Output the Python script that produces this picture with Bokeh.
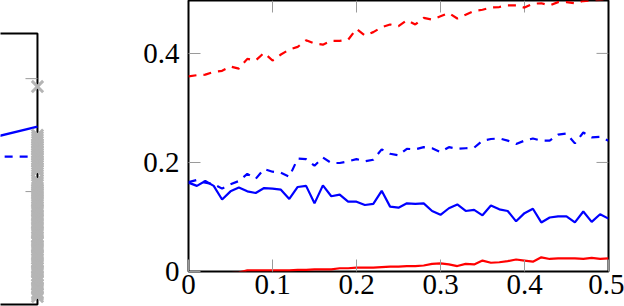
import numpy as np
from bokeh.plotting import figure
from bokeh.layouts import row
from bokeh.models import Range1d, FixedTicker, BoxAnnotation
from bokeh.embed import file_html
from bokeh.resources import INLINE

# ---------------- right panel data ----------------
x = [0.00, 0.01, 0.02, 0.03, 0.04, 0.05, 0.06, 0.07, 0.08, 0.09,
     0.10, 0.11, 0.12, 0.13, 0.14, 0.15, 0.16, 0.17, 0.18, 0.19,
     0.20, 0.21, 0.22, 0.23, 0.24, 0.25, 0.26, 0.27, 0.28, 0.29,
     0.30, 0.31, 0.32, 0.33, 0.34, 0.35, 0.36, 0.37, 0.38, 0.39,
     0.40, 0.41, 0.42, 0.43, 0.44, 0.45, 0.46, 0.47, 0.48, 0.49, 0.50]

blue_solid = [0.163, 0.157, 0.166, 0.157, 0.132, 0.147, 0.154, 0.147, 0.144, 0.153,
              0.152, 0.150, 0.133, 0.155, 0.157, 0.125, 0.158, 0.138, 0.141, 0.128,
              0.128, 0.122, 0.124, 0.148, 0.119, 0.117, 0.125, 0.124, 0.125, 0.111,
              0.104, 0.116, 0.123, 0.111, 0.113, 0.103, 0.121, 0.114, 0.111, 0.092,
              0.107, 0.115, 0.090, 0.099, 0.101, 0.101, 0.090, 0.110, 0.091, 0.105, 0.097]

blue_dashed = [0.164, 0.168, 0.163, 0.160, 0.152, 0.160, 0.166, 0.179, 0.170, 0.188,
               0.183, 0.181, 0.174, 0.207, 0.206, 0.194, 0.209, 0.199, 0.199, 0.202,
               0.206, 0.202, 0.205, 0.224, 0.216, 0.213, 0.225, 0.224, 0.228, 0.226,
               0.219, 0.228, 0.225, 0.226, 0.227, 0.240, 0.243, 0.244, 0.240, 0.234,
               0.240, 0.244, 0.240, 0.240, 0.251, 0.253, 0.235, 0.255, 0.246, 0.247, 0.240]

red_solid = [-0.003, -0.003, -0.003, -0.003, -0.003, -0.003, -0.002, 0.002, 0.002, 0.002,
             0.002, 0.002, 0.002, 0.003, 0.003, 0.004, 0.004, 0.004, 0.006, 0.006,
             0.007, 0.007, 0.007, 0.008, 0.009, 0.009, 0.010, 0.010, 0.011, 0.014,
             0.015, 0.013, 0.010, 0.014, 0.013, 0.020, 0.016, 0.017, 0.019, 0.022,
             0.020, 0.018, 0.026, 0.023, 0.024, 0.024, 0.024, 0.023, 0.025, 0.023, 0.024]

red_dashed = [0.358, 0.360, 0.361, 0.366, 0.368, 0.376, 0.372, 0.390, 0.387, 0.401,
              0.387, 0.398, 0.407, 0.412, 0.424, 0.418, 0.416, 0.423, 0.423, 0.425,
              0.445, 0.433, 0.439, 0.448, 0.453, 0.450, 0.461, 0.453, 0.465, 0.462,
              0.468, 0.474, 0.464, 0.471, 0.478, 0.480, 0.484, 0.485, 0.488, 0.488,
              0.484, 0.491, 0.492, 0.488, 0.494, 0.494, 0.492, 0.496, 0.497, 0.498, 0.500]

xticks = [0.0, 0.1, 0.2, 0.3, 0.4, 0.5]
xtick_labels = ["0", "0.1", "0.2", "0.3", "0.4", "0.5"]
yticks = [0.0, 0.2, 0.4]
ytick_labels = ["0", "0.2", "0.4"]

# ---------------- left panel (only its right edge is visible) ----------------
left_x = [0.45, 0.50]
left_blue_solid = [0.297, 0.315]
left_blue_dashed = [0.262, 0.262]
left_marker_x = 0.50
left_marker_y = [0.386,
                 0.300, 0.296, 0.292, 0.288, 0.283, 0.279, 0.275, 0.270, 0.266, 0.262, 0.257,
                 0.253, 0.249, 0.245, 0.241, 0.237,
                 0.220, 0.216, 0.212, 0.207, 0.202, 0.198, 0.193, 0.188, 0.184, 0.179, 0.173,
                 0.168, 0.165, 0.159, 0.154, 0.149, 0.145, 0.140, 0.135, 0.129, 0.126, 0.120,
                 0.115, 0.110, 0.104, 0.101, 0.096, 0.090, 0.085, 0.081, 0.076, 0.071, 0.065,
                 0.060, 0.057, 0.051, 0.046, 0.041, 0.035, 0.030, 0.027, 0.021, 0.018, 0.014]
left_yticks = [0.2, 0.4]
left_ymax = 0.48

BLUE = "#0000ff"
RED = "#ff0000"
TICK = "#9a9a9a"
GRAY = "#b5b5b5"
FONT = "Liberation Serif"

# ---------------- left figure ----------------
pl = figure(width=45, height=306, output_backend="svg", toolbar_location=None,
            x_range=Range1d(0.4558, 0.5096), y_range=Range1d(-0.0035, 0.5384),
            x_axis_location=None, y_axis_location=None,
            min_border_left=0, min_border_right=0, min_border_top=0, min_border_bottom=0)
pl.frame_align = False
pl.outline_line_color = None
pl.xgrid.visible = False
pl.ygrid.visible = False
pl.background_fill_color = "white"
pl.border_fill_color = "white"

box = BoxAnnotation(left=0.40, right=left_marker_x, bottom=0.0, top=left_ymax,
                    fill_color=None, fill_alpha=0, line_color="black", line_alpha=1.0,
                    line_width=2, level="underlay")
pl.add_layout(box)
pl.ray(x=[left_marker_x] * len(left_yticks), y=left_yticks, length=12, length_units="screen",
       angle=np.pi, line_color=TICK, line_width=1)
pl.line(left_x, left_blue_solid, line_color=BLUE, line_width=2.2)
pl.line(left_x, left_blue_dashed, line_color=BLUE, line_width=2.2, line_dash="8 7",
        line_dash_offset=6)
pl.scatter([left_marker_x] * len(left_marker_y), left_marker_y, marker="x", size=16,
           line_color=GRAY, line_width=3)

# ---------------- right figure ----------------
p = figure(width=579, height=306, output_backend="svg", toolbar_location=None,
           x_range=Range1d(0.0, 0.5), y_range=Range1d(0.0, 0.497),
           min_border_left=143, min_border_right=16, min_border_top=0, min_border_bottom=35)
p.frame_align = False
p.xgrid.visible = False
p.ygrid.visible = False
p.background_fill_color = "white"
p.border_fill_color = "white"
p.outline_line_color = "black"
p.outline_line_width = 2

p.xaxis.ticker = FixedTicker(ticks=xticks)
p.yaxis.ticker = FixedTicker(ticks=yticks)
p.xaxis.major_label_overrides = dict(zip(xticks, xtick_labels))
p.yaxis.major_label_overrides = dict(zip(yticks, ytick_labels))
for ax in (p.xaxis[0], p.yaxis[0]):
    ax.axis_line_color = None
    ax.major_tick_in = 12
    ax.major_tick_out = 0
    ax.major_tick_line_color = TICK
    ax.major_tick_line_width = 1
    ax.minor_tick_line_color = None
    ax.major_label_text_font = FONT
    ax.major_label_text_font_size = "29px"
    ax.major_label_text_color = "black"
p.xaxis.major_label_standoff = 3
p.yaxis.major_label_standoff = 9

# mirrored ticks on top and right
top_ticks = xticks[1:-1]
right_ticks = yticks[1:]
p.ray(x=top_ticks, y=[0.497] * len(top_ticks), length=12, length_units="screen",
      angle=-np.pi / 2, line_color=TICK, line_width=1)
p.ray(x=[0.5] * len(right_ticks), y=right_ticks, length=12, length_units="screen",
      angle=np.pi, line_color=TICK, line_width=1)

p.line(x, red_solid, line_color=RED, line_width=2.2)
p.line(x, blue_solid, line_color=BLUE, line_width=2.2)
p.line(x, blue_dashed, line_color=BLUE, line_width=2.2, line_dash="8 7")
p.line(x, red_dashed, line_color=RED, line_width=2.2, line_dash="8 7")

layout = row(pl, p)

open("out.html", "w").write(file_html(layout, INLINE))
